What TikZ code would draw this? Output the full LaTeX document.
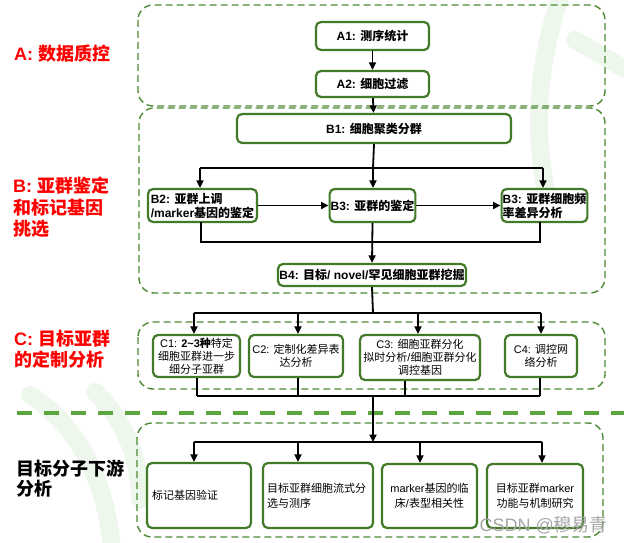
\documentclass[tikz,border=0pt]{standalone}
\usepackage{fontspec}
\setmainfont{Liberation Sans}
\newfontfamily\cjk{Noto Sans CJK SC}
\newcommand\zhs[1]{{\cjk #1}}
\usetikzlibrary{arrows.meta}
\definecolor{boxgreen}{RGB}{66,122,42}
\definecolor{grpgreen}{RGB}{78,138,52}
\definecolor{bandgreen}{RGB}{92,165,60}
\definecolor{wmgreen}{RGB}{238,247,236}
\definecolor{lblred}{RGB}{255,0,0}
\tikzset{
  box/.style={draw=boxgreen, line width=2.2pt, rounded corners=5pt, fill=white,
    inner sep=1pt, font=\fontsize{11}{13}\selectfont, align=center},
  boldbox/.style={box, font=\fontsize{12}{14}\selectfont\bfseries},
  grp/.style={draw=grpgreen, line width=1.4pt, dash pattern=on 7pt off 4pt, rounded corners=15pt},
  arr/.style={line width=1.8pt, -{Triangle[length=7.5pt,width=7pt]}},
  ln/.style={line width=1.8pt},
  wm/.style={draw=wmgreen, line width=18pt, line cap=round},
  lbl/.style={text=lblred, font=\fontsize{18}{21.5}\selectfont\bfseries, align=left, anchor=west, inner sep=0pt},
}
\begin{document}
\begin{tikzpicture}[x=1pt,y=-1pt]
\useasboundingbox (0,0) rectangle (624,543);
\fill[white] (0,0) rectangle (624,543);
% faint watermark shapes
\draw[wm] (562,-8) .. controls (538,60) and (532,130) .. (548,200);
\draw[wm] (575,40) -- (630,72);
\draw[wm] (30,395) .. controls (70,420) and (105,470) .. (112,548);
\draw[wm] (95,392) .. controls (125,420) and (140,460) .. (140,500);
% group frames
\draw[grp] (138,5) rectangle (605,106);
\draw[grp] (139,108) rectangle (605,293);
\draw[grp] (138,322) rectangle (605,389);
\draw[grp] (137,423) rectangle (603,537);
\draw[draw=bandgreen, line width=4pt, dash pattern=on 15pt off 12pt] (17,413) -- (624,413);
% left labels
\node[lbl] (LA) at (14,54) {A: \zhs{数据质控}};
\node[lbl] (LB) at (13,207.5) {B: \zhs{亚群鉴定}\\\zhs{和标记基因}\\\zhs{挑选}};
\node[lbl] (LC) at (14,349) {C: \zhs{目标亚群}\\\zhs{的定制分析}};
\node[lbl, text=black, font=\fontsize{18}{20}\selectfont\bfseries] (LD) at (16,479) {\zhs{目标分子下游}\\\zhs{分析}};
% A
\node[boldbox, minimum width=113pt, minimum height=28pt] (A1) at (372.5,36) {A1: \zhs{测序统计}};
\node[boldbox, minimum width=113pt, minimum height=26pt] (A2) at (372.5,84) {A2: \zhs{细胞过滤}};
% B
\node[boldbox, minimum width=274pt, minimum height=29pt] (B1) at (374,128.5) {B1: \zhs{细胞聚类分群}};
\node[boldbox, minimum width=109pt, minimum height=33pt, align=left] (B2) at (202.5,205.5) {B2: \zhs{亚群上调}\\/marker\zhs{基因的鉴定}};
\node[boldbox, minimum width=83pt, minimum height=33pt] (B3) at (372.5,205.5) {B3: \zhs{亚群的鉴定}};
\node[boldbox, minimum width=83pt, minimum height=33pt, align=left] (B3r) at (544.5,205.5) {B3: \zhs{亚群细胞频}\\\zhs{率差异分析}};
\node[boldbox, minimum width=188pt, minimum height=22pt] (B4) at (372,275) {B4: \zhs{目标}/ novel/\zhs{罕见细胞亚群挖掘}};
% C
\node[box, minimum width=87pt, minimum height=42pt] (C1) at (196.5,356) {C1: \textbf{2\textasciitilde3\zhs{种}}\zhs{特定}\\\zhs{细胞亚群进一步}\\\zhs{细分子亚群}};
\node[box, minimum width=94pt, minimum height=42pt] (C2) at (296,356) {C2: \zhs{定制化差异表}\\\zhs{达分析}};
\node[box, minimum width=120pt, minimum height=45pt] (C3) at (420,357.5) {C3: \zhs{细胞亚群分化}\\\zhs{拟时分析}/\zhs{细胞亚群分化}\\\zhs{调控基因}};
\node[box, minimum width=72pt, minimum height=42pt] (C4) at (541,356) {C4: \zhs{调控网}\\\zhs{络分析}};
% D
\node[box, minimum width=104pt, minimum height=65pt, text width=94pt, align=left, font=\fontsize{11}{15}\selectfont] (D1) at (199,495.5) {\zhs{标记基因验证}};
\node[box, minimum width=110pt, minimum height=65pt, text width=102pt, align=left, font=\fontsize{11}{15}\selectfont] (D2) at (318,495.5) {\zhs{目标亚群细胞流式分}\\\zhs{选与测序}};
\node[box, minimum width=95pt, minimum height=64pt, font=\fontsize{11}{15}\selectfont] (D3) at (429.5,496) {marker\zhs{基因的临}\\\zhs{床}/\zhs{表型相关性}};
\node[box, minimum width=96pt, minimum height=64pt, font=\fontsize{11}{15}\selectfont] (D4) at (535,496) {\zhs{目标亚群}marker\\\zhs{功能与机制研究}};
% watermark text
\node[text=black!35, font=\fontsize{18}{20}\selectfont, anchor=east, inner sep=0pt] (wmt) at (608,525) {CSDN @\zhs{穆易青}};
% connectors A
\draw[arr] (A1) -- (A2);
\draw[arr] (A2) -- (B1);
% connectors B
\coordinate (bL) at (200,168);
\coordinate (bM) at (373,168);
\coordinate (bR) at (543,168);
\draw[ln] (B1.south) -- (bM);
\draw[ln] (bL) -- (bR);
\draw[arr] (bL) -- (bL |- B2.north);
\draw[arr] (bM) -- (bM |- B3.north);
\draw[arr] (bR) -- (bR |- B3r.north);
\draw[arr] (B2) -- (B3);
\draw[arr] (B3) -- (B3r);
\coordinate (mB) at (373,242);
\coordinate (b2s) at (201,222);
\coordinate (b3s) at (540,222);
\draw[ln] (b2s) |- (mB) -| (b3s);
\draw[arr] (B3.south) -- (B4.north);
% connectors C
\coordinate (cL) at (194,313);
\coordinate (cM) at (373,313);
\coordinate (c2) at (298,313);
\coordinate (c3) at (418,313);
\coordinate (cR) at (541,313);
\draw[ln] (B4.south) -- (cM);
\draw[ln] (cL) -- (cR);
\draw[arr] (cL) -- (cL |- C1.north);
\draw[arr] (c2) -- (c2 |- C2.north);
\draw[arr] (c3) -- (c3 |- C3.north);
\draw[arr] (cR) -- (cR |- C4.north);
\coordinate (dm1) at (197,396);
\coordinate (dm4) at (540,396);
\coordinate (dmM) at (373,396);
\coordinate (dm2) at (298,396);
\coordinate (dm3) at (405,396);
\draw[ln] (dm1) -- (dm4);
\draw[ln] (C1.south -| dm1) -- (dm1);
\draw[ln] (C2.south -| dm2) -- (dm2);
\draw[ln] (C3.south -| dm3) -- (dm3);
\draw[ln] (C4.south -| dm4) -- (dm4);
% connectors D
\coordinate (dL) at (194,442);
\coordinate (dM) at (373,442);
\coordinate (d2) at (298,442);
\coordinate (d3) at (420,442);
\coordinate (dR) at (542,442);
\draw[arr] (dmM) -- (dM);
\draw[ln] (dL) -- (dR);
\draw[arr] (dL) -- (dL |- D1.north);
\draw[arr] (d2) -- (d2 |- D2.north);
\draw[arr] (d3) -- (d3 |- D3.north);
\draw[arr] (dR) -- (dR |- D4.north);
\end{tikzpicture}
\end{document}
